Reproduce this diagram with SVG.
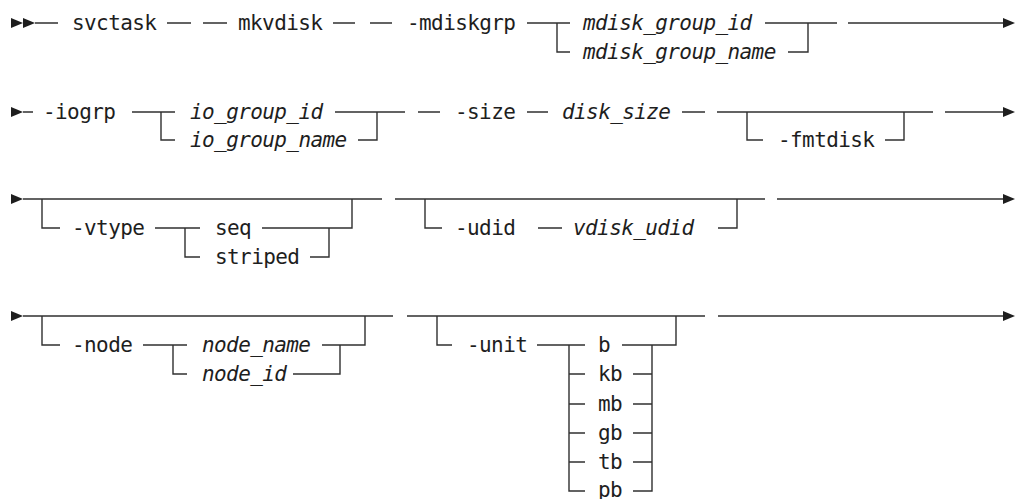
<svg xmlns="http://www.w3.org/2000/svg" width="1018" height="499" viewBox="0 0 1018 499">
<style>
text{font-family:"DejaVu Sans Mono","Liberation Mono",monospace;font-size:21px;letter-spacing:-0.6px;fill:#1e1e1e}
.v{font-style:italic}
.ln{fill:none;stroke:#303030;stroke-width:1.4}
.ah{fill:#1e1e1e}
</style>
<rect width="1018" height="499" fill="#fff"/>
<g id="connectors">
<polygon class="ah" points="11,18 23,23 11,28"/>
<polygon class="ah" points="23,18 35,23 23,28"/>
<path class="ln" d="M35 23H58M167 23H191M203 23H227M333 23H355M370 23H392M527 23H570M557 23V52H570M765 23H837M808 23V52H788M848 23H1003"/>
<polygon class="ah" points="1003,18 1015,23 1003,28"/>
<polygon class="ah" points="11,107 23,112 11,117"/>
<path class="ln" d="M23 112H33M132 112H175M161 112V140H175M335 112H405M377 112V140H358M418 112H440M527 112H548M682 112H705M717 112H933M747 112V140H763M885 140H904V112M945 112H1003"/>
<polygon class="ah" points="1003,107 1015,112 1003,117"/>
<polygon class="ah" points="11,194 23,199 11,204"/>
<path class="ln" d="M23 199H382M42 199V228H60M155 228H200M185 228V257H200M262 228H352V199M329 228V257H310M395 199H765M425 199V228H442M538 228H562M718 228H737V199M777 199H1003"/>
<polygon class="ah" points="1003,194 1015,199 1003,204"/>
<polygon class="ah" points="11,311 23,316 11,321"/>
<path class="ln" d="M23 316H393M42 316V345H60M143 345H187M173 345V374H187M322 345H365V316M340 345V374H293M407 316H705M437 316V345H452M537 345H585M569 345V491H585M569 374H585M569 404H585M569 433H585M569 462H585M622 345H676V316M652 345V491H633M633 374H652M633 404H652M633 433H652M633 462H652M718 316H1003"/>
<polygon class="ah" points="1003,311 1015,316 1003,321"/>
</g>
<g id="n-svctask"><text x="72" y="30">svctask</text></g>
<g id="n-mkvdisk"><text x="238" y="30">mkvdisk</text></g>
<g id="n-mdiskgrp"><text x="407" y="30">-mdiskgrp</text></g>
<g id="n-mdisk_group_id"><text class="v" x="583" y="30">mdisk_group_id</text></g>
<g id="n-mdisk_group_name"><text class="v" x="583" y="59">mdisk_group_name</text></g>
<g id="n-iogrp"><text x="43" y="119">-iogrp</text></g>
<g id="n-io_group_id"><text class="v" x="190" y="119">io_group_id</text></g>
<g id="n-io_group_name"><text class="v" x="190" y="147">io_group_name</text></g>
<g id="n-size"><text x="455" y="119">-size</text></g>
<g id="n-disk_size"><text class="v" x="562" y="119">disk_size</text></g>
<g id="n-fmtdisk"><text x="778" y="147">-fmtdisk</text></g>
<g id="n-vtype"><text x="72" y="235">-vtype</text></g>
<g id="n-seq"><text x="215" y="235">seq</text></g>
<g id="n-striped"><text x="215" y="264">striped</text></g>
<g id="n-udid"><text x="455" y="235">-udid</text></g>
<g id="n-vdisk_udid"><text class="v" x="573" y="235">vdisk_udid</text></g>
<g id="n-node"><text x="72" y="352">-node</text></g>
<g id="n-node_name"><text class="v" x="202" y="352">node_name</text></g>
<g id="n-node_id"><text class="v" x="202" y="381">node_id</text></g>
<g id="n-unit"><text x="467" y="352">-unit</text></g>
<g id="n-b"><text x="598" y="352">b</text></g>
<g id="n-kb"><text x="598" y="381">kb</text></g>
<g id="n-mb"><text x="598" y="411">mb</text></g>
<g id="n-gb"><text x="598" y="440">gb</text></g>
<g id="n-tb"><text x="598" y="469">tb</text></g>
<g id="n-pb"><text x="598" y="497">pb</text></g>
</svg>
